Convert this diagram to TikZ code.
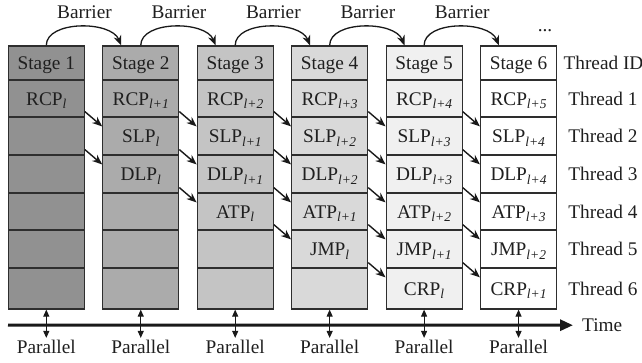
\documentclass[tikz,border=0pt]{standalone}
\usepackage{fontspec}
\setmainfont{Liberation Serif}
\usetikzlibrary{arrows.meta}
\newcommand{\sbx}[1]{\raisebox{-3.5pt}{\fontsize{13.5}{14}\selectfont\itshape #1}}
\newcommand{\stagecol}[9]{%
  \node[cell,fill=#2,minimum height=34pt] (n#1-0) at ({46.3+94.45*(#1-1)},63) {#3};
  \node[cell,fill=#2,minimum height=37pt] (n#1-1) at ({46.3+94.45*(#1-1)},98.5) {#4};
  \node[cell,fill=#2,minimum height=38pt] (n#1-2) at ({46.3+94.45*(#1-1)},136) {#5};
  \node[cell,fill=#2,minimum height=38pt] (n#1-3) at ({46.3+94.45*(#1-1)},174) {#6};
  \node[cell,fill=#2,minimum height=37pt] (n#1-4) at ({46.3+94.45*(#1-1)},211.5) {#7};
  \node[cell,fill=#2,minimum height=38pt] (n#1-5) at ({46.3+94.45*(#1-1)},249) {#8};
  \node[cell,fill=#2,minimum height=41pt] (n#1-6) at ({46.3+94.45*(#1-1)},288.5) {#9};
}
\begin{document}
\begin{tikzpicture}[x=1pt,y=-1pt,
  font=\rmfamily\fontsize{19.3}{22}\selectfont,
  every node/.style={text=black!88},
  cell/.style={draw=black!82, line width=1.2pt, minimum width=76pt, inner sep=0pt,
    text height=13pt, text depth=0pt},
  lbl/.style={inner sep=0pt, text height=13pt, text depth=0pt},
  diag/.style={draw=black!90, line width=1.4pt, -{Stealth[length=10pt,width=8pt]}},
  barr/.style={draw=black!90, line width=1.3pt, -{Stealth[length=10pt,width=8pt]}},
  timeline/.style={draw=black!90, line width=3pt, -{Triangle[length=13pt,width=11pt]}},
  par/.style={draw=black!90, line width=1pt, {Triangle[length=7pt,width=6pt]}-{Triangle[length=7pt,width=6pt]}}
]
\useasboundingbox (0,0) rectangle (642,362);

\stagecol{1}{black!43}{Stage 1}{RCP\sbx{l}}{}{}{}{}{}
\stagecol{2}{black!33}{Stage 2}{RCP\sbx{l+1}}{SLP\sbx{l}}{DLP\sbx{l}}{}{}{}
\stagecol{3}{black!23}{Stage 3}{RCP\sbx{l+2}}{SLP\sbx{l+1}}{DLP\sbx{l+1}}{ATP\sbx{l}}{}{}
\stagecol{4}{black!15}{Stage 4}{RCP\sbx{l+3}}{SLP\sbx{l+2}}{DLP\sbx{l+2}}{ATP\sbx{l+1}}{JMP\sbx{l}}{}
\stagecol{5}{black!6}{Stage 5}{RCP\sbx{l+4}}{SLP\sbx{l+3}}{DLP\sbx{l+3}}{ATP\sbx{l+2}}{JMP\sbx{l+1}}{CRP\sbx{l}}
\stagecol{6}{white}{Stage 6}{RCP\sbx{l+5}}{SLP\sbx{l+4}}{DLP\sbx{l+4}}{ATP\sbx{l+3}}{JMP\sbx{l+2}}{CRP\sbx{l+1}}

% thread labels
\node[lbl] (th0) at (603.5,63) {Thread ID};
\foreach \r/\y in {1/98.5,2/136,3/174,4/211.5,5/249,6/288.5}
  \node[lbl] (th\r) at (603,\y) {Thread \r};

% diagonal dependency arrows
\foreach \a/\r in {1/1,1/2,2/1,2/2,2/3,3/1,3/2,3/3,3/4,4/1,4/2,4/3,4/4,4/5,5/1,5/2,5/3,5/4,5/5} {
  \pgfmathtruncatemacro\b{\a+1}
  \pgfmathtruncatemacro\s{\r+1}
  \draw[diag] ([yshift=6pt]n\a-\r.south east) -- ([yshift=-10pt]n\b-\s.north west);
}

% barriers
\foreach \i in {1,...,5} {
  \pgfmathtruncatemacro\j{\i+1}
  \draw[barr] (n\i-0.north) .. controls ([yshift=25pt]n\i-0.north) and ([xshift=9pt,yshift=25pt]n\j-0.north west) .. ([xshift=19pt]n\j-0.north west);
  \node[anchor=base, inner sep=0pt] (b\i) at ({84.5+94.45*(\i-1)},18.5) {Barrier};
}
\node[anchor=base, inner sep=0pt] (dots) at (545,31.5) {...};

% time line
\coordinate (t0) at (8,325);
\node[anchor=base west, inner sep=0pt] (time) at (582,331.5) {Time};
\draw[timeline] (t0) -- ([xshift=-9pt]time.west);

% parallel
\foreach \i in {1,...,6} {
  \node[anchor=base, inner sep=1.5pt] (p\i) at ({46.3+94.45*(\i-1)},353) {Parallel};
  \draw[par] (n\i-6.south) -- (p\i.north);
}
\end{tikzpicture}
\end{document}
